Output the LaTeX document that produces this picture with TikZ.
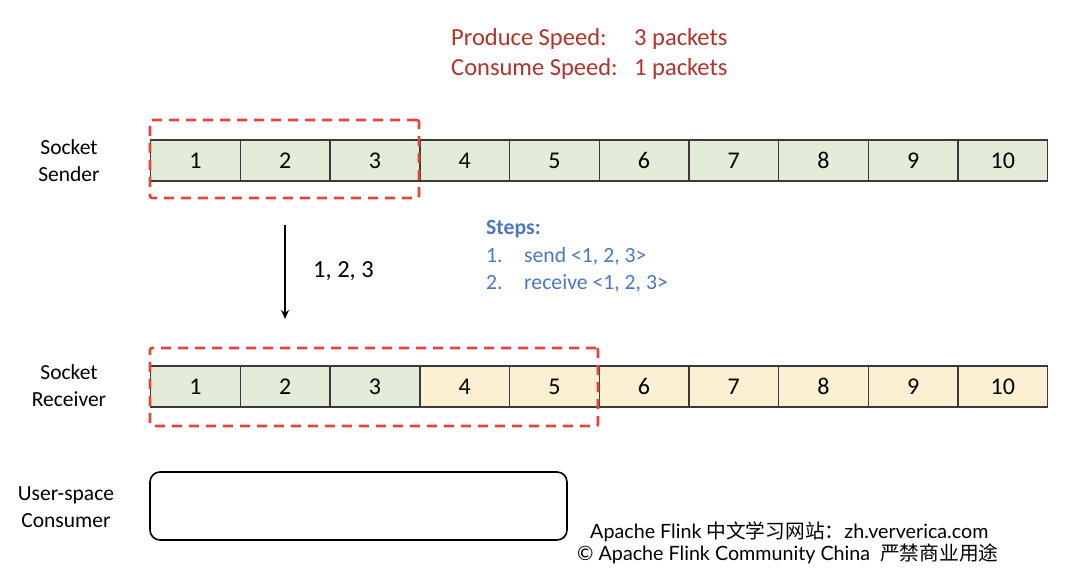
\documentclass[tikz,border=0pt]{standalone}
\usepackage{fontspec}
\setmainfont{Carlito}
\newfontfamily\footfont{Lato}
\newfontfamily\cjk{Noto Sans CJK SC}
\usetikzlibrary{arrows.meta}
\definecolor{cellgreen}{HTML}{E3EBD9}
\definecolor{cellyellow}{HTML}{FBF1D2}
\definecolor{cellborder}{HTML}{3A3A3A}
\definecolor{selred}{HTML}{E2463B}
\definecolor{titlered}{HTML}{B3322B}
\definecolor{stepblue}{HTML}{4A78C2}
\tikzset{
  cell/.style={draw=cellborder, line width=1.4pt, minimum width=89.7pt, minimum height=41pt, inner sep=0pt, anchor=west, font=\fontsize{24}{24}\selectfont},
  greencell/.style={cell, fill=cellgreen},
  yellowcell/.style={cell, fill=cellyellow},
  selbox/.style={draw=selred, line width=2.6pt, dash pattern=on 10pt off 7pt, rounded corners=2pt, inner sep=0pt},
  rowlabel/.style={align=center, font=\fontsize{21.5}{27}\selectfont},
  titletext/.style={text=titlered, anchor=west, inner sep=0pt, font=\fontsize{24.5}{24.5}\selectfont},
  steptext/.style={text=stepblue, anchor=west, inner sep=0pt, font=\fontsize{21.7}{21.7}\selectfont},
  foottext/.style={anchor=west, inner sep=0pt, font=\footfont\fontsize{19.7}{19.7}\selectfont},
  flowarrow/.style={-{Stealth[length=9pt,width=8pt]}, line width=2.1pt}
}
\begin{document}
\begin{tikzpicture}[x=1pt,y=-1pt]
\useasboundingbox (0,0) rectangle (1080,588);
\fill[white] (0,0) rectangle (1080,588);
% title
\node[titletext] (prodlab) at (451,39) {Produce Speed:};
\node[titletext] (prodval) at (634,39) {3 packets};
\node[titletext] (conslab) at (451,69) {Consume Speed:};
\node[titletext] (consval) at (634,69) {1 packets};
% sender row
\foreach \i in {1,...,10} {
  \node[greencell] (s\i) at ({150+(\i-1)*89.7},160.5) {\i};
}
% receiver row
\foreach \i in {1,2,3} {
  \node[greencell] (r\i) at ({150+(\i-1)*89.7},386.5) {\i};
}
\foreach \i in {4,...,10} {
  \node[yellowcell] (r\i) at ({150+(\i-1)*89.7},386.5) {\i};
}
% selection boxes
\node[selbox, minimum width=269pt, minimum height=78pt] (sel1) at (284.5,159) {};
\node[selbox, minimum width=448pt, minimum height=78pt] (sel2) at (374,387) {};
% row labels
\node[rowlabel] (lsend) at (69,161) {Socket\\Sender};
\node[rowlabel] (lrecv) at (69,386) {Socket\\Receiver};
\node[rowlabel] (lcons) at (66,507) {User-space\\Consumer};
% consumer box
\node[draw=black, line width=1.6pt, rounded corners=10pt, minimum width=417pt, minimum height=68pt, inner sep=0pt] (consumer) at (358.5,506) {};
% arrow
\coordinate (af) at (285,225);
\coordinate (at) at (285,319);
\draw[flowarrow] (af) -- (at);
\node[anchor=west, inner sep=0pt, font=\fontsize{24.5}{24.5}\selectfont] (alab) at (313,271) {1, 2, 3};
% steps
\node[steptext, font=\bfseries\fontsize{21.7}{21.7}\selectfont] (steps) at (486,229) {Steps:};
\node[steptext] (n1) at (486,256) {1.};
\node[steptext] (t1) at (524,256) {send <1, 2, 3>};
\node[steptext] (n2) at (486,283) {2.};
\node[steptext] (t2) at (524,283) {receive <1, 2, 3>};
% footer
\node[foottext] (f1) at (590,532) {Apache Flink {\cjk 中文学习网站：}zh.ververica.com};
\node[foottext] (f2) at (577,554) {© Apache Flink Community China\ \ {\cjk 严禁商业用途}};
\end{tikzpicture}
\end{document}
